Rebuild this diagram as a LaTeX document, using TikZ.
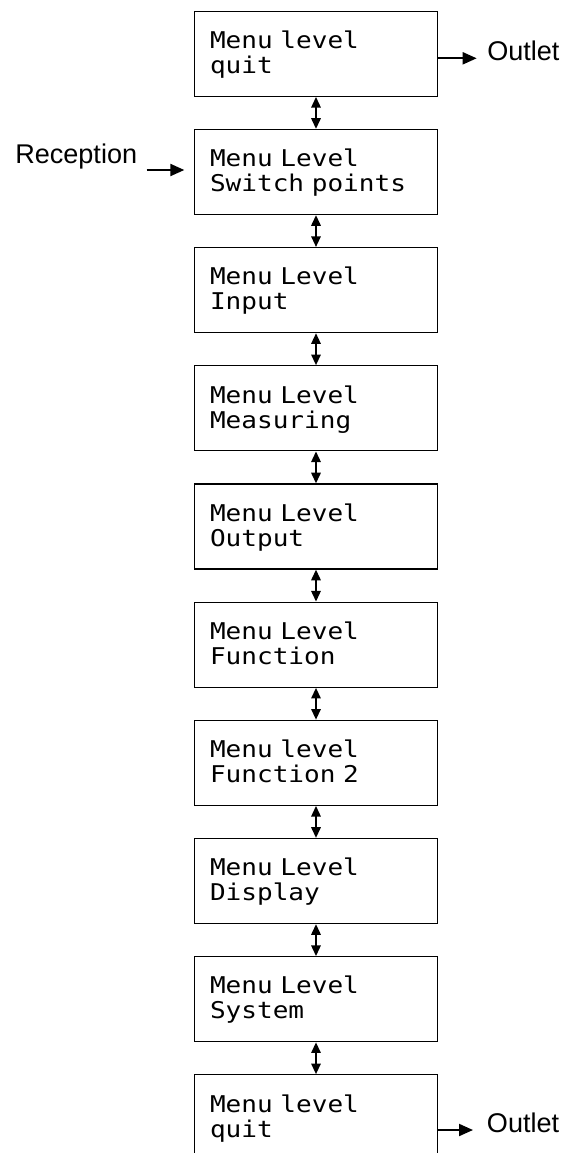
\documentclass[tikz,border=0pt]{standalone}
\usepackage{fontspec}
\setmainfont{Liberation Sans}
\setmonofont{DejaVu Sans Mono}[FakeStretch=1.13]
\usetikzlibrary{arrows.meta}

\tikzset{
  menubox/.style={draw, line width=0.9pt, rectangle, inner xsep=11.8pt, inner ysep=0pt,
    text width=159pt, minimum height=63.75pt, align=left,
    font=\ttfamily\fontsize{17.3}{18.75}\selectfont},
  flow/.style={line width=1.5pt, -{Triangle[length=10.5pt,width=9pt]}},
  link/.style={line width=1.5pt, {Triangle[length=8pt,width=7pt]}-{Triangle[length=8pt,width=7pt]}},
  sidetext/.style={font=\fontsize{20.3}{24}\selectfont, inner sep=0pt}
}
\newcommand{\lvstrut}{\rule[-3.95pt]{0pt}{18.75pt}}

\begin{document}
\begin{tikzpicture}[x=0.75pt,y=0.75pt,yscale=-1,xscale=1]
\useasboundingbox (0,0) rectangle (566,1153);
\clip (0,0) rectangle (566,1153);

%Shape: Menu boxes
\node[menubox] (quitA) at (316,53.8) {\lvstrut Menu level\\\lvstrut quit};
\node[menubox] (points) at (316,172) {\lvstrut Menu Level\\\lvstrut Switch points};
\node[menubox] (input) at (316,290.1) {\lvstrut Menu Level\\\lvstrut Input};
\node[menubox] (measuring) at (316,408.3) {\lvstrut Menu Level\\\lvstrut Measuring};
\node[menubox] (output) at (316,526.5) {\lvstrut Menu Level\\\lvstrut Output};
\node[menubox] (function) at (316,644.7) {\lvstrut Menu Level\\\lvstrut Function};
\node[menubox] (functionB) at (316,762.8) {\lvstrut Menu level\\\lvstrut Function 2};
\node[menubox] (display) at (316,881) {\lvstrut Menu Level\\\lvstrut Display};
\node[menubox] (system) at (316,999.2) {\lvstrut Menu Level\\\lvstrut System};
\node[menubox] (quitB) at (316,1117.3) {\lvstrut Menu level\\\lvstrut quit};

%Straight Lines: between levels
\draw[link] (quitA.south) -- (points.north);
\draw[link] (points.south) -- (input.north);
\draw[link] (input.south) -- (measuring.north);
\draw[link] (measuring.south) -- (output.north);
\draw[link] (output.south) -- (function.north);
\draw[link] (function.south) -- (functionB.north);
\draw[link] (functionB.south) -- (display.north);
\draw[link] (display.south) -- (system.north);
\draw[link] (system.south) -- (quitB.north);

% Text Node
\node[sidetext, anchor=base west] (recvText) at (15,163) {Reception};
% Text Node
\node[sidetext, anchor=base west] (outletA) at (487,60) {Outlet};
% Text Node
\node[sidetext, anchor=base west] (outletB) at (486.7,1132.7) {Outlet};

%Straight Lines: in and out
\coordinate (recvTail) at (146.7,170);
\draw[flow, shorten >=7pt] (recvTail) -- (recvTail -| points.west);
\coordinate (outTipA) at (476.7,58.3);
\draw[flow] (outTipA -| quitA.east) -- (outTipA);
\coordinate (outTipB) at (473,1130);
\draw[flow] (outTipB -| quitB.east) -- (outTipB);
\end{tikzpicture}
\end{document}
